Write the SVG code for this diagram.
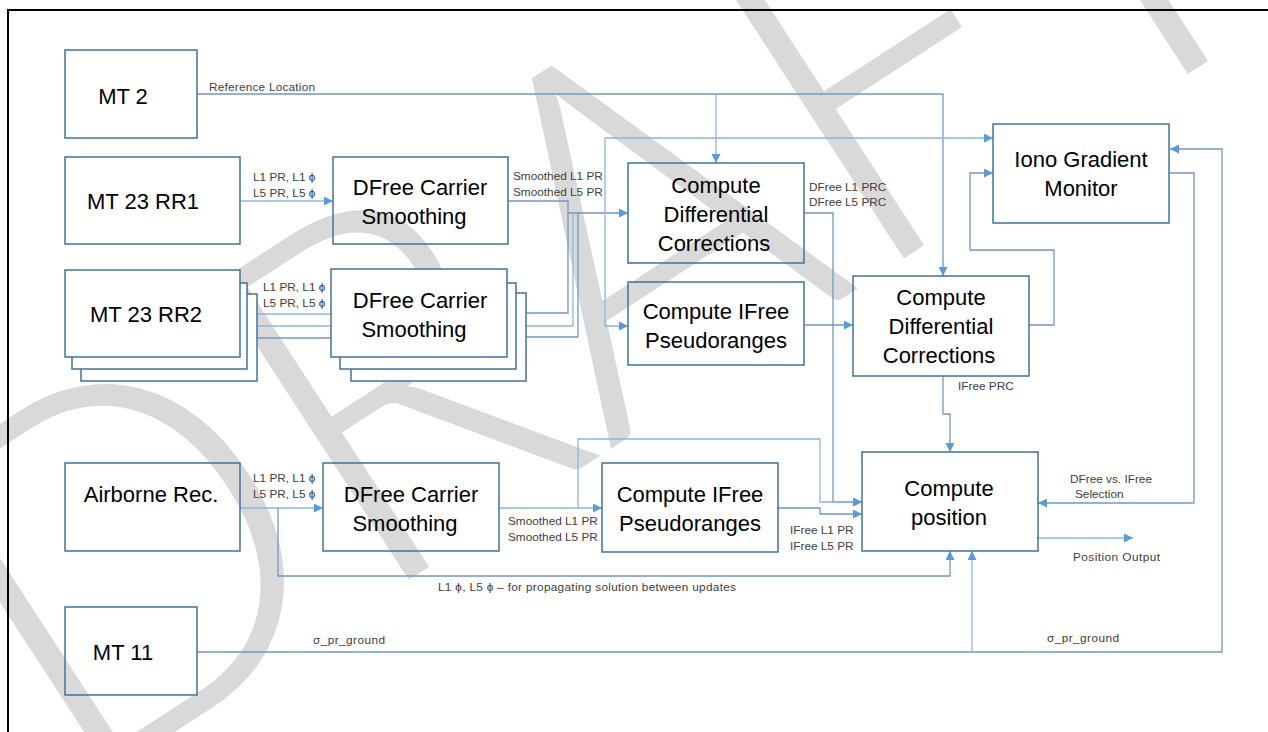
<svg xmlns="http://www.w3.org/2000/svg" width="1268" height="732" viewBox="0 0 1268 732">
<style>
.box{fill:none;stroke:#41719C;stroke-width:1.5}
.bk{fill:#fff;stroke:#41719C;stroke-width:1.5}
.t{font-family:"Liberation Sans",Arial,sans-serif;font-size:22px;fill:#000;text-anchor:middle}
.l{font-family:"Liberation Sans",Arial,sans-serif;font-size:11.8px;fill:#404040}
.c{fill:none;stroke:#7597c4;stroke-width:1.3}
.c2{fill:none;stroke:#8fb4de;stroke-width:1.3}
.wm{font-family:Lato,"Liberation Sans",sans-serif;font-weight:300;font-size:500px;fill:#d9d9d9}
</style>
<defs>
<marker id="a" viewBox="0 0 10 10" refX="10" refY="5" markerWidth="9" markerHeight="9" markerUnits="userSpaceOnUse" orient="auto">
<path d="M0,0 L10,5 L0,10 z" fill="#5B9BD5"/>
</marker>
</defs>
<rect x="0" y="0" width="1268" height="732" fill="#fff"/>
<text class="wm" transform="translate(70,800) rotate(-33)" textLength="1480" lengthAdjust="spacingAndGlyphs">DRAFT</text>
<path d="M8,732 V10 H1268" fill="none" stroke="#000" stroke-width="2"/>

<g id="connectors">
<path class="c" d="M197,94 H943 V276" marker-end="url(#a)"/>
<path class="c2" d="M716,94 V163" marker-end="url(#a)"/>
<path class="c2" d="M240,201 H333" marker-end="url(#a)"/>
<path class="c2" d="M240,314 H331"/>
<path class="c2" d="M247,326 H331"/>
<path class="c" d="M257,338 H331"/>
<path class="c" d="M508,201 H568 V213 H628" marker-end="url(#a)"/>
<path class="c" d="M507,313 H568 V213"/>
<path class="c2" d="M516,326 H573 V213"/>
<path class="c" d="M526,337 H578 V213"/>
<path class="c2" d="M605,213 V138 H993" marker-end="url(#a)"/>
<path class="c2" d="M605,213 V326 H628" marker-end="url(#a)"/>
<path class="c" d="M804,325 H853" marker-end="url(#a)"/>
<path class="c" d="M804,213 H833 V502 H862" marker-end="url(#a)"/>
<path class="c" d="M1029,325 H1054 V250 H970 V173 H993" marker-end="url(#a)"/>
<path class="c" d="M943,376 V414 H950 V452" marker-end="url(#a)"/>
<path class="c" d="M1169,173 H1194 V503 H1038" marker-end="url(#a)"/>
<path class="c" d="M197,652 H1222 V149 H1170" marker-end="url(#a)"/>
<path class="c2" d="M972,652 V551" marker-end="url(#a)"/>
<path class="c2" d="M240,508 H323" marker-end="url(#a)"/>
<path class="c" d="M278,508 V576 H950 V551" marker-end="url(#a)"/>
<path class="c2" d="M499,508 H602" marker-end="url(#a)"/>
<path class="c2" d="M578,508 V439 H820 V502 H862" marker-end="url(#a)"/>
<path class="c" d="M777,508 H820 V514 H862" marker-end="url(#a)"/>
<path class="c2" d="M1037,538 H1133" marker-end="url(#a)"/>
</g>

<g id="labels">
<text class="l" x="209" y="91" textLength="106">Reference Location</text>
<text class="l" x="253" y="181">L1 PR, L1 ϕ</text>
<text class="l" x="253" y="197">L5 PR, L5 ϕ</text>
<text class="l" x="263" y="291">L1 PR, L1 ϕ</text>
<text class="l" x="263" y="307">L5 PR, L5 ϕ</text>
<text class="l" x="513" y="180">Smoothed L1 PR</text>
<text class="l" x="513" y="196">Smoothed L5 PR</text>
<text class="l" x="809" y="191">DFree L1 PRC</text>
<text class="l" x="809" y="206">DFree L5 PRC</text>
<text class="l" x="958" y="390">IFree PRC</text>
<text class="l" x="253" y="482">L1 PR, L1 ϕ</text>
<text class="l" x="253" y="498">L5 PR, L5 ϕ</text>
<text class="l" x="508" y="525">Smoothed L1 PR</text>
<text class="l" x="508" y="541">Smoothed L5 PR</text>
<text class="l" x="790" y="534">IFree L1 PR</text>
<text class="l" x="790" y="550">IFree L5 PR</text>
<text class="l" x="1070" y="483">DFree vs. IFree</text>
<text class="l" x="1075" y="498">Selection</text>
<text class="l" x="1073" y="561" textLength="87">Position Output</text>
<text class="l" x="438" y="591" textLength="298">L1 ϕ, L5 ϕ – for propagating solution between updates</text>
<text class="l" x="313" y="644" textLength="72">σ_pr_ground</text>
<text class="l" x="1047" y="642" textLength="72">σ_pr_ground</text>
</g>

<g id="mt2"><rect class="box" x="65" y="50" width="132" height="88"/><text class="t" x="123" y="104">MT 2</text></g>
<g id="mt23rr1"><rect class="box" x="65" y="157" width="175" height="87"/><text class="t" x="143" y="209">MT 23 RR1</text></g>
<g id="mt23rr2">
<rect class="bk" x="81" y="294" width="176" height="87"/>
<rect class="bk" x="72" y="283" width="175" height="86"/>
<rect class="bk" x="65" y="270" width="175" height="87"/>
<text class="t" x="146" y="322">MT 23 RR2</text></g>
<g id="smooth1"><rect class="box" x="333" y="157" width="175" height="87"/><text class="t" x="420" y="195">DFree Carrier</text><text class="t" x="414" y="224">Smoothing</text></g>
<g id="smooth2">
<rect class="bk" x="351" y="293" width="175" height="88"/>
<rect class="bk" x="340" y="283" width="176" height="86"/>
<rect class="bk" x="331" y="269" width="176" height="88"/>
<text class="t" x="420" y="308">DFree Carrier</text><text class="t" x="414" y="337">Smoothing</text></g>
<g id="cdc1"><rect class="box" x="628" y="163" width="176" height="100"/><text class="t" x="716" y="193">Compute</text><text class="t" x="716" y="222">Differential</text><text class="t" x="714" y="251">Corrections</text></g>
<g id="ifree1"><rect class="box" x="628" y="282" width="176" height="83"/><text class="t" x="716" y="319">Compute IFree</text><text class="t" x="716" y="348">Pseudoranges</text></g>
<g id="iono"><rect class="box" x="993" y="124" width="176" height="99"/><text class="t" x="1081" y="167">Iono Gradient</text><text class="t" x="1081" y="196">Monitor</text></g>
<g id="cdc2"><rect class="box" x="853" y="276" width="176" height="100"/><text class="t" x="941" y="305">Compute</text><text class="t" x="941" y="334">Differential</text><text class="t" x="939" y="363">Corrections</text></g>
<g id="airborne"><rect class="box" x="65" y="463" width="175" height="88"/><text class="t" x="151" y="502">Airborne Rec.</text></g>
<g id="smooth3"><rect class="box" x="323" y="463" width="176" height="88"/><text class="t" x="411" y="502">DFree Carrier</text><text class="t" x="405" y="531">Smoothing</text></g>
<g id="ifree2"><rect class="box" x="602" y="463" width="176" height="89"/><text class="t" x="690" y="502">Compute IFree</text><text class="t" x="690" y="531">Pseudoranges</text></g>
<g id="position"><rect class="box" x="862" y="452" width="176" height="99"/><text class="t" x="949" y="496">Compute</text><text class="t" x="949" y="525">position</text></g>
<g id="mt11"><rect class="box" x="65" y="607" width="132" height="88"/><text class="t" x="123" y="660">MT 11</text></g>
</svg>
